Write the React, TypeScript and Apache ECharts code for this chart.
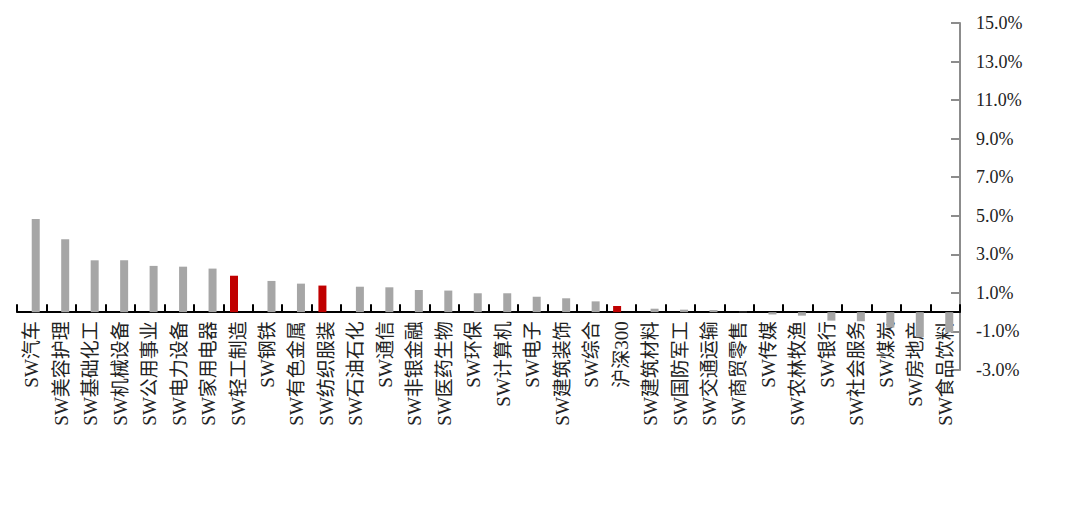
import React, { useEffect, useRef } from "react";
import * as echarts from "echarts";

// industry names in ranked order
const categories = [
  "SW汽车",
  "SW美容护理",
  "SW基础化工",
  "SW机械设备",
  "SW公用事业",
  "SW电力设备",
  "SW家用电器",
  "SW轻工制造",
  "SW钢铁",
  "SW有色金属",
  "SW纺织服装",
  "SW石油石化",
  "SW通信",
  "SW非银金融",
  "SW医药生物",
  "SW环保",
  "SW计算机",
  "SW电子",
  "SW建筑装饰",
  "SW综合",
  "沪深300",
  "SW建筑材料",
  "SW国防军工",
  "SW交通运输",
  "SW商贸零售",
  "SW传媒",
  "SW农林牧渔",
  "SW银行",
  "SW社会服务",
  "SW煤炭",
  "SW房地产",
  "SW食品饮料",
];

// returns in %
const values = [
  4.83, 3.78, 2.69, 2.69, 2.4, 2.36, 2.26, 1.89, 1.62, 1.48, 1.38, 1.32, 1.29,
  1.15, 1.12, 0.98, 0.98, 0.8, 0.72, 0.56, 0.32, 0.18, 0.13, 0.11, 0.02, -0.12,
  -0.18, -0.44, -0.47, -0.8, -1.3, -1.05,
];

const highlighted = ["SW轻工制造", "SW纺织服装", "沪深300"];

const yTicks = [-3, -1, 1, 3, 5, 7, 9, 11, 13, 15];
const yMin = -3;
const yMax = 15;

const latinFont = "'Liberation Serif', 'Noto Sans CJK SC', serif";

const App: React.FC = () => {
  const chartRef = useRef<HTMLDivElement>(null);

  useEffect(() => {
    if (!chartRef.current) return;
    const chart = echarts.init(chartRef.current, null, { renderer: "svg" });

    const redData = categories.map((c, i) =>
      highlighted.includes(c) ? values[i] : null
    );
    const grayData = categories.map((c, i) =>
      highlighted.includes(c) ? null : values[i]
    );

    const top = 23;
    const bottom = 151;
    const plotHeight = 521 - top - bottom;
    // lift the category axis from the grid bottom up to the zero line
    const zeroOffset = (-yMin / (yMax - yMin)) * plotHeight;

    chart.setOption({
      animation: false,
      backgroundColor: "#fff",
      grid: { left: 17, right: 120, top, bottom },
      xAxis: {
        type: "category",
        data: categories,
        offset: -zeroOffset,
        axisLine: { onZero: false, lineStyle: { color: "#000", width: 2 } },
        axisTick: {
          show: true,
          inside: true,
          length: 8,
          lineStyle: { color: "#000", width: 2 },
        },
        axisLabel: {
          interval: 0,
          rotate: 90,
          margin: 9,
          fontSize: 19,
          color: "#222",
          fontFamily: latinFont,
        },
      },
      yAxis: {
        type: "value",
        position: "right",
        min: yMin,
        max: yMax,
        splitLine: { show: false },
        axisLine: { show: true, lineStyle: { color: "#8c8c8c", width: 2 } },
        axisTick: {
          show: true,
          inside: true,
          length: 9,
          customValues: yTicks,
          lineStyle: { color: "#8c8c8c", width: 2 },
        },
        axisLabel: {
          customValues: yTicks,
          margin: 16,
          fontSize: 18,
          color: "#222",
          fontFamily: latinFont,
          formatter: (v: number) => `${v.toFixed(1)}%`,
        },
      },
      series: [
        {
          type: "bar",
          data: redData,
          barWidth: 8,
          barGap: "0%",
          itemStyle: { color: "#c00000" },
        },
        {
          type: "bar",
          data: grayData,
          barWidth: 8,
          barGap: "0%",
          itemStyle: { color: "#a6a6a6" },
        },
      ],
    });

    return () => {
      chart.dispose();
    };
  }, []);

  return (
    <div
      ref={chartRef}
      style={{ position: "fixed", left: 0, top: 0, width: 1080, height: 521 }}
    />
  );
};

export default App;
